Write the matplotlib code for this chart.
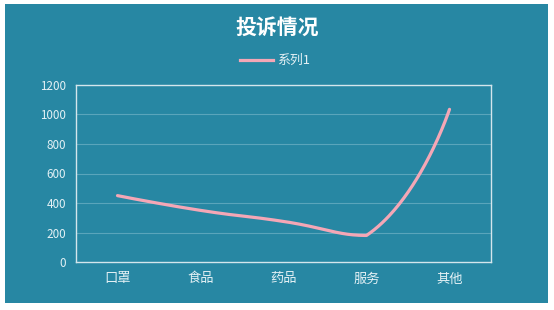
import numpy as np
import matplotlib
matplotlib.use("Agg")
import matplotlib.pyplot as plt
from matplotlib.patches import Rectangle
from matplotlib.lines import Line2D

plt.rcParams['font.family'] = ['Noto Sans CJK SC', 'DejaVu Sans']

categories = ['口罩', '食品', '药品', '服务', '其他']
values = [450, 350, 275, 180, 1035]
series_name = '系列1'
title = '投诉情况'
yticks = [0, 200, 400, 600, 800, 1000, 1200]

BG = '#2787a3'
LINE = '#f4a7b6'
TXT = '#e4f1f5'

fig = plt.figure(figsize=(5.54, 3.10), dpi=100)
fig.patch.set_facecolor('white')
fig.patches.append(Rectangle((5/554, 7/310), 543/554, 299/310, transform=fig.transFigure,
                             facecolor=BG, edgecolor='none', zorder=-10))

ax = fig.add_axes([76/554, 48/310, 415/554, 177/310])
ax.set_zorder(5)
ax.set_facecolor(BG)
ax.set_xlim(-0.5, len(categories) - 0.5)
ax.set_ylim(0, 1200)
ax.set_yticks(yticks)
ax.set_xticks(range(len(categories)))
ax.set_xticklabels(categories)
for s in ax.spines.values():
    s.set_color('#d4e6ec')
    s.set_linewidth(1.0)
ax.tick_params(axis='both', length=0, colors=TXT, labelsize=8.4)
ax.tick_params(axis='y', pad=7)
ax.tick_params(axis='x', pad=7.5, labelsize=9.5)
for y in yticks[1:-1]:
    ax.axhline(y, color='#5aa5bb', lw=0.8, zorder=1)

# echarts-like smooth curve (with bounding-box constraint) computed in display space
fig.canvas.draw()
pts = ax.transData.transform(np.column_stack([np.arange(len(values)), values]))
lo = pts.min(axis=0)
hi = pts.max(axis=0)
smooth = 0.5
n = len(pts)
cps = []
for i in range(n):
    p = pts[i]
    if i == 0 or i == n - 1:
        cps.append((p, p))
        continue
    prev, nxt = pts[i - 1], pts[i + 1]
    v = (nxt - prev) * smooth
    d0 = np.linalg.norm(p - prev)
    d1 = np.linalg.norm(nxt - p)
    s = d0 + d1
    c0 = np.clip(p - v * d0 / s, lo, hi)
    c1 = np.clip(p + v * d1 / s, lo, hi)
    cps.append((c0, c1))
curve = []
t = np.linspace(0, 1, 80)[:, None]
for i in range(n - 1):
    p0 = pts[i]; c0 = cps[i][1]; c1 = cps[i + 1][0]; p1 = pts[i + 1]
    seg = (1 - t) ** 3 * p0 + 3 * (1 - t) ** 2 * t * c0 + 3 * (1 - t) * t ** 2 * c1 + t ** 3 * p1
    curve.append(seg)
curve = np.vstack(curve)
dc = ax.transData.inverted().transform(curve)
ax.plot(dc[:, 0], dc[:, 1], color=LINE, lw=2.3, solid_capstyle='round', zorder=3)

fig.text(277/554, 1 - 27/310, title, ha='center', va='center', color='white',
         fontsize=15, fontweight='bold')
fig.lines.append(Line2D([240/554, 273/554], [1 - 60/310] * 2, transform=fig.transFigure,
                        color=LINE, lw=2.3))
fig.text(277/554, 1 - 60/310, series_name, ha='left', va='center', color=TXT, fontsize=9.3)

fig.savefig('out.png', dpi=100, facecolor=fig.get_facecolor())
